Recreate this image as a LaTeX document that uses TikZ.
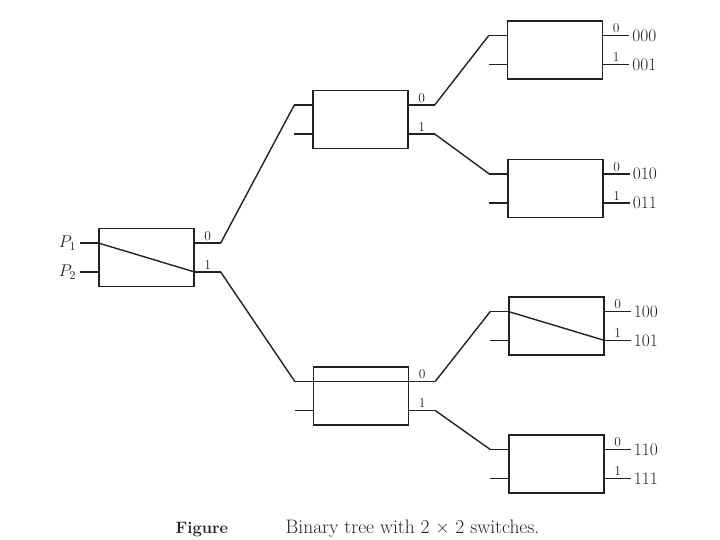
\RequirePackage{fix-cm}
\documentclass[tikz,border=0pt]{standalone}
\usepackage{amsmath}
\usepackage{fontspec}
\usepackage{tikz}
\definecolor{inkGrey}{HTML}{222222}

\begin{document}
\begin{tikzpicture}[x=1pt, y=1pt, color=inkGrey, line width=1.4pt,
    switch/.style={draw, rectangle, minimum width=95pt, minimum height=58pt, inner sep=0pt},
    bit/.style={font=\fontsize{13.5}{15}\selectfont, inner sep=2pt},
    addr/.style={font=\fontsize{17.5}{19}\selectfont, inner sep=2.5pt, anchor=west}]

    \useasboundingbox (0,0) rectangle (720,540);

    % the seven 2x2 switches, one column per stage
    \node[switch] (s)   at (146.5,282.5) {};
    \node[switch] (s0)  at (360.5,420.5) {};
    \node[switch] (s1)  at (361,144) {};
    \node[switch] (s00) at (555,490) {};
    \node[switch] (s01) at (555.5,351.5) {};
    \node[switch] (s10) at (556.5,214) {};
    \node[switch] (s11) at (556.5,76) {};

    % ports and stubs of every switch
    \foreach \s in {s,s0,s1,s00,s01,s10,s11} {
        \coordinate (\s-w0) at ([yshift=14.5pt]\s.west);
        \coordinate (\s-w1) at ([yshift=-14.5pt]\s.west);
        \coordinate (\s-e0) at ([yshift=14.5pt]\s.east);
        \coordinate (\s-e1) at ([yshift=-14.5pt]\s.east);
        \draw (\s-w0) -- ++(-18,0) coordinate (\s-in0);
        \draw (\s-w1) -- ++(-18,0) coordinate (\s-in1);
        \draw (\s-e0) -- ++(26,0) node[bit, above, midway] (\s-b0) {0} coordinate (\s-out0);
        \draw (\s-e1) -- ++(26,0) node[bit, above, midway] (\s-b1) {1} coordinate (\s-out1);
    }

    % settings inside the switches
    \draw (s-w0) -- (s-e1);
    \draw (s1-w0) -- (s1-e0);
    \draw (s10-w0) -- (s10-e1);

    % links between the stages
    \draw (s-out0) -- (s0-in0);
    \draw (s-out1) -- (s1-in0);
    \draw (s0-out0) -- (s00-in0);
    \draw (s0-out1) -- (s01-in0);
    \draw (s1-out0) -- (s10-in0);
    \draw (s1-out1) -- (s11-in0);

    % processors and destination addresses
    \node[left, inner sep=3.5pt, font=\fontsize{17}{19}\selectfont] (p1) at (s-in0) {$P_1$};
    \node[left, inner sep=3.5pt, font=\fontsize{17}{19}\selectfont] (p2) at (s-in1) {$P_2$};
    \foreach \s/\a/\b in {s00/000/001, s01/010/011, s10/100/101, s11/110/111} {
        \node[addr] (d\a) at (\s-out0) {\a};
        \node[addr] (d\b) at (\s-out1) {\b};
    }

    % caption
    \node[anchor=base west, inner sep=0pt, font=\bfseries\fontsize{16.5}{18}\selectfont] (figtag) at (175,6) {Figure};
    \node[anchor=base west, inner sep=0pt, font=\fontsize{19.5}{21}\selectfont] (figtext) at (285,6) {Binary tree with 2 × 2 switches.};

\end{tikzpicture}
\end{document}
